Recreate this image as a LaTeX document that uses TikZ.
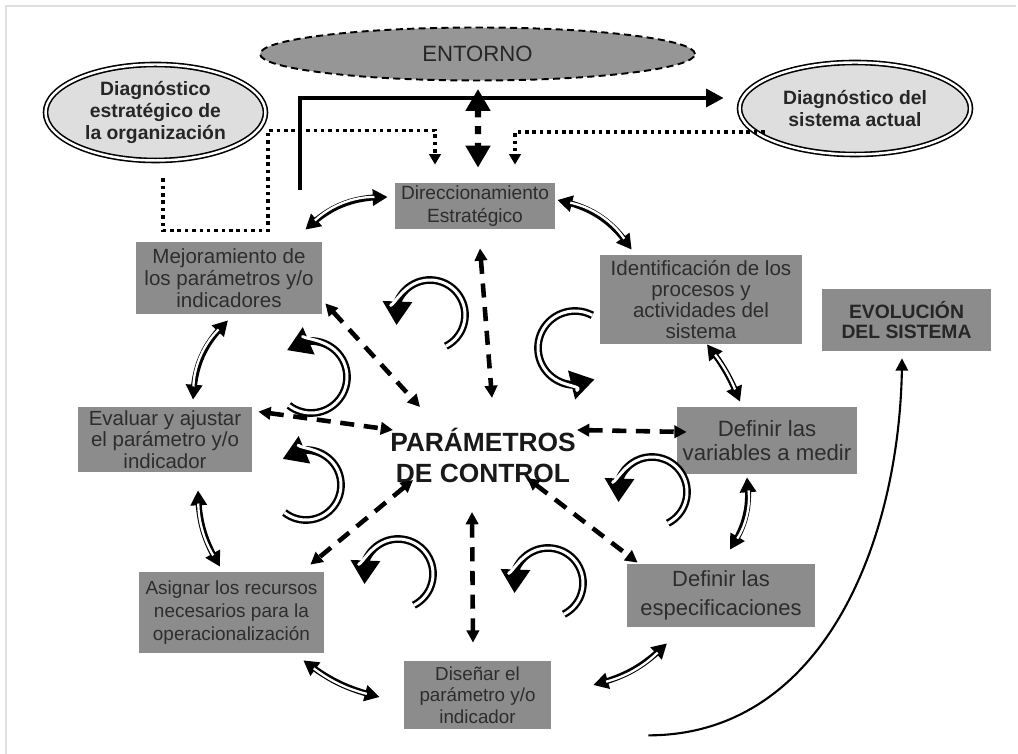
\documentclass[tikz,border=0pt]{standalone}
\usepackage{fontspec}
\setmainfont{Liberation Sans}
\usepackage{xcolor}
\usepackage{tikz}
\usetikzlibrary{arrows.meta, bending, shapes.geometric}

\definecolor{boxgray}{RGB}{140,140,140}
\definecolor{boxtext}{RGB}{45,45,45}
\definecolor{ovalgray}{RGB}{222,222,222}
\definecolor{envgray}{RGB}{150,150,150}

\begin{document}
\begin{tikzpicture}[
      x=0.02cm, y=0.02cm,
      box/.style={fill=boxgray, text=boxtext, align=center, inner sep=0pt, font=\fontsize{11.7}{12.4}\selectfont},
      oval/.style={ellipse, draw, double, double distance=1.4pt, line width=0.9pt, fill=ovalgray, text=black!85, align=center, inner sep=0pt, font=\bfseries\fontsize{11}{12.4}\selectfont},
      env/.style={ellipse, draw, line width=1.1pt, dash pattern=on 4pt off 2.5pt, fill=envgray, text=black!85, inner sep=0pt, font=\fontsize{12.6}{14}\selectfont},
      ring/.style={line width=3.4pt, {Triangle[length=8.5pt,width=9pt]}-{Triangle[length=8.5pt,width=9pt]},
        postaction={draw=white, line width=1.3pt, -, shorten <=7.5pt, shorten >=7.5pt}},
      link/.style={line width=2.6pt, dash pattern=on 8pt off 5.5pt, {Triangle[length=7pt,width=7pt]}-{Triangle[length=7pt,width=7pt]}},
      dotlink/.style={line width=2pt, dash pattern=on 2pt off 2.2pt, -{Triangle[length=6pt,width=6.5pt]}},
      bigdash/.style={line width=3.6pt, dash pattern=on 4.5pt off 5pt, {Triangle[length=12.5pt,width=13.5pt]}-{Triangle[length=12.5pt,width=13.5pt]}},
      swirl/.style={line width=4.4pt, -{Triangle[length=13.5pt,width=16pt]},
        postaction={draw=white, line width=1.7pt, -, shorten >=12.5pt}},
      arr/.style={line width=2.4pt, -{Triangle[length=10pt,width=10pt]}},
      thinarr/.style={line width=1.2pt, -{Triangle[length=7pt,width=7pt]}}
    ]
    \useasboundingbox (0,0) rectangle (1018,754);
    \draw[black!12, line width=0.8pt] (6,0) -- (6,748) -- (1016,748);

    \node[env, minimum width=8.7cm, minimum height=1.06cm] (entorno) at (477.5,700) {ENTORNO};
    \node[oval, minimum width=4.4cm, minimum height=1.92cm] (diagest) at (155.5,641.5) {Diagnóstico\\estratégico de\\la organización};
    \node[oval, minimum width=4.62cm, minimum height=1.84cm] (diagsis) at (855,645.5) {Diagnóstico del\\sistema actual};

    \node[box, minimum width=3.2cm, minimum height=0.92cm, font=\fontsize{10.9}{13}\selectfont] (dir) at (475,548) {Direccionamiento\\Estratégico};
    \node[box, minimum width=3.72cm, minimum height=1.44cm, font=\fontsize{11.7}{12.5}\selectfont] (mej) at (229,476) {Mejoramiento de\\los parámetros y/o\\indicadores};
    \node[box, minimum width=4.04cm, minimum height=1.78cm, font=\fontsize{11.7}{11.8}\selectfont] (ident) at (701,454.5) {Identificación de los\\procesos y\\actividades del\\sistema};
    \node[box, minimum width=3.38cm, minimum height=1.24cm, text=black!85, font=\bfseries\fontsize{11}{11.4}\selectfont] (evol) at (906.5,434) {EVOLUCIÓN\\DEL SISTEMA};
    \node[box, minimum width=3.48cm, minimum height=1.3cm, font=\fontsize{11.65}{12.4}\selectfont] (eval) at (165,314.5) {Evaluar y ajustar\\el parámetro y/o\\indicador};
    \node[box, minimum width=3.6cm, minimum height=1.34cm, font=\fontsize{12.6}{13.6}\selectfont] (defvar) at (767,313.5) {Definir las\\variables a medir};
    \node[box, minimum width=3.7cm, minimum height=1.62cm, font=\fontsize{10.8}{13.3}\selectfont] (asig) at (231.5,141.5) {Asignar los recursos\\necesarios para la\\operacionalización};
    \node[box, minimum width=3.76cm, minimum height=1.26cm, font=\fontsize{12.5}{16.4}\selectfont] (defesp) at (721,158.5) {Definir las\\especificaciones};
    \node[box, minimum width=2.94cm, minimum height=1.36cm, font=\fontsize{10.7}{12.2}\selectfont] (dis) at (477.5,59) {Diseñar el\\parámetro y/o\\indicador};
    \node[align=center, inner sep=0pt, text=black!90, font=\bfseries\fontsize{15}{17.6}\selectfont] (ctrl) at (483,299) {PARÁMETROS\\DE CONTROL};

    % entorno and diagnosis
    \draw[bigdash] ([shift={(0.5,-7.5)}]entorno.south) -- ([shift={(3,15)}]dir.north);
    \draw[arr] ([shift={(-22,52)}]mej.north east) |- ([shift={(-15,10.5)}]diagsis.west);
    \draw[dotlink] ([shift={(7.5,-17)}]diagest.south) -- ++(0,-52) -- ++(105,0) -- ++(0,100) -| ([shift={(-40,18)}]dir.north);
    \draw[dotlink] ([shift={(26,-23.5)}]diagsis.west) -| ([shift={(40,18)}]dir.north);

    % cycle
    \draw[ring] ([shift={(-17,12)}]mej.north east) to[bend left=22] ([shift={(-7,9)}]dir.west);
    \draw[ring] ([shift={(2,6)}]dir.east) to[bend left=22] ([shift={(32,5)}]ident.north west);
    \draw[ring] ([shift={(6,0)}]ident.south) to[bend left=8] ([shift={(-27,5)}]defvar.north);
    \draw[ring] ([shift={(-20,-3)}]defvar.south) to[bend left=20] ([shift={(9,14)}]defesp.north);
    \draw[ring] ([shift={(-54,-16)}]defesp.south) to[bend left=15] ([shift={(42,10)}]dis.east);
    \draw[ring] ([shift={(-24,-2)}]dis.west) to[bend left=12] ([shift={(-21,-7)}]asig.south east);
    \draw[ring] ([shift={(-11.5,5)}]asig.north) to[bend left=15] ([shift={(33,-18)}]eval.south);
    \draw[ring] ([shift={(28,7)}]eval.north) to[bend left=22] ([shift={(-1,-6)}]mej.south);

    % links to the centre
    \draw[link] ([shift={(3,11)}]mej.south east) -- ([shift={(-63,48)}]ctrl.center);
    \draw[link] ([shift={(5,-19)}]dir.south) -- ([shift={(9,57)}]ctrl.center);
    \draw[link] ([shift={(6,-5)}]eval.north east) -- ([shift={(-90,25)}]ctrl.center);
    \draw[link] ([shift={(94,25)}]ctrl.center) -- ([shift={(10,8.5)}]defvar.west);
    \draw[link] ([shift={(-70,-25)}]ctrl.center) -- ([shift={(-14,7)}]asig.north east);
    \draw[link] ([shift={(-11,-57)}]ctrl.center) -- ([shift={(-4.5,18)}]dis.north);
    \draw[link] ([shift={(44,-23)}]ctrl.center) -- ([shift={(11,1)}]defesp.north west);

    % rotation arrows
    \draw[swirl] (430,439) ++(-63:35) arc[start angle=-63, end angle=197, radius=35];
    \draw[swirl] (575,406) ++(62:37) arc[start angle=62, end angle=302, radius=37];
    \draw[swirl] (311,377) ++(-128:36) arc[start angle=-128, end angle=132, radius=36];
    \draw[swirl] (306,269) ++(-128:35) arc[start angle=-128, end angle=132, radius=35];
    \draw[swirl] (652,262) ++(-63:35) arc[start angle=-63, end angle=197, radius=35];
    \draw[swirl] (398,180) ++(-63:35) arc[start angle=-63, end angle=197, radius=35];
    \draw[swirl] (548,171) ++(-63:35) arc[start angle=-63, end angle=197, radius=35];

    \draw[thinarr] ([shift={(97,-6)}]dis.south east) to[out=0, in=-90] ([shift={(-4.5,-7)}]evol.south);
  \end{tikzpicture}
\end{document}
